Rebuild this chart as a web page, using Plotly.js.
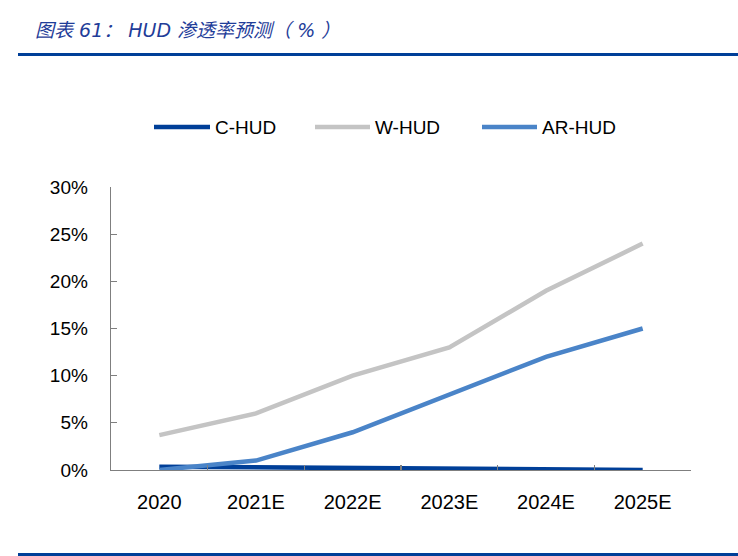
<!DOCTYPE html>
<html>
<head>
<meta charset="utf-8">
<script src="https://cdn.plot.ly/plotly-3.0.1.min.js"></script>
<style>html,body{margin:0;padding:0;background:#fff;}#chart{width:738px;height:556px;}</style>
</head>
<body>
<div id="chart"></div>
<script>
const categories = ['2020', '2021E', '2022E', '2023E', '2024E', '2025E'];
const cHud = [0.35, 0.3, 0.2, 0.1, 0.05, 0];
const wHud = [3.7, 6.0, 10.0, 13.0, 19.0, 24.0];
const arHud = [0.0, 1.0, 4.0, 8.0, 12.0, 15.0];
const seriesNames = ['C-HUD', 'W-HUD', 'AR-HUD'];
const seriesColors = ['#003f98', '#c4c4c4', '#4a84c8'];
const seriesValues = [cHud, wHud, arHud];

const font = 'Liberation Sans, Arial, sans-serif';
const traces = seriesValues.map((vals, i) => ({
  type: 'scatter', mode: 'lines', name: seriesNames[i],
  x: categories, y: vals,
  line: {color: seriesColors[i], width: 4.5},
  showlegend: false
}));

// custom legend (pixel -> paper conversion)
const L = 111, R = 691, T = 187, B = 470;
const px = v => (v - L) / (R - L);
const py = v => (B - v) / (B - T);
const legendX = [[154, 210, 213], [315, 370, 373], [482, 537, 540]];
const shapes = [];
const annotations = [];
legendX.forEach((p, i) => {
  shapes.push({type: 'line', xref: 'paper', yref: 'paper', x0: px(p[0]), x1: px(p[1]), y0: py(127), y1: py(127),
    line: {color: seriesColors[i], width: 4.5}});
  annotations.push({xref: 'paper', yref: 'paper', x: px(p[2]), y: py(127.5), xanchor: 'left', yanchor: 'middle',
    text: seriesNames[i], showarrow: false, font: {family: font, size: 19, color: '#000'}});
});
shapes.push({type: 'line', xref: 'paper', yref: 'paper', x0: px(18), x1: px(738), y0: py(54.5), y1: py(54.5),
  line: {color: '#003f98', width: 3}});
shapes.push({type: 'line', xref: 'paper', yref: 'paper', x0: px(18), x1: px(738), y0: py(554.5), y1: py(554.5),
  line: {color: '#003f98', width: 3}});

const layout = {
  width: 738, height: 556,
  margin: {l: L, r: 738 - R, t: T, b: 556 - B, pad: 0},
  paper_bgcolor: '#fff', plot_bgcolor: '#fff',
  title: {text: '图表 61：\u00a0HUD 渗透率预测（\u00a0%\u00a0）', x: 35 / 738, xanchor: 'left', xref: 'container',
    y: 1 - 30 / 556, yanchor: 'middle', yref: 'container',
    font: {family: 'DejaVu Sans, Noto Sans CJK SC, sans-serif', size: 19, color: '#1f3d99', style: 'italic'}},
  xaxis: {type: 'category', range: [-0.5, 5.5], showgrid: false, zeroline: false,
    showline: true, linecolor: '#7f7f7f', linewidth: 1.3,
    ticks: 'inside', tickson: 'boundaries', ticklen: 5, tickcolor: '#7f7f7f', tickwidth: 1.3,
    ticklabelstandoff: 14,
    tickfont: {family: font, size: 20, color: '#000'}},
  yaxis: {range: [0, 30], dtick: 5, tick0: 0, showgrid: false, zeroline: false,
    showline: true, linecolor: '#7f7f7f', linewidth: 1.3,
    ticks: 'inside', ticklen: 6, tickcolor: '#7f7f7f', tickwidth: 1.3,
    ticksuffix: '%', ticklabelstandoff: 18,
    tickfont: {family: font, size: 19, color: '#000'}},
  shapes: shapes,
  annotations: annotations
};
Plotly.newPlot('chart', traces, layout, {displayModeBar: false, staticPlot: true});
</script>
</body>
</html>
